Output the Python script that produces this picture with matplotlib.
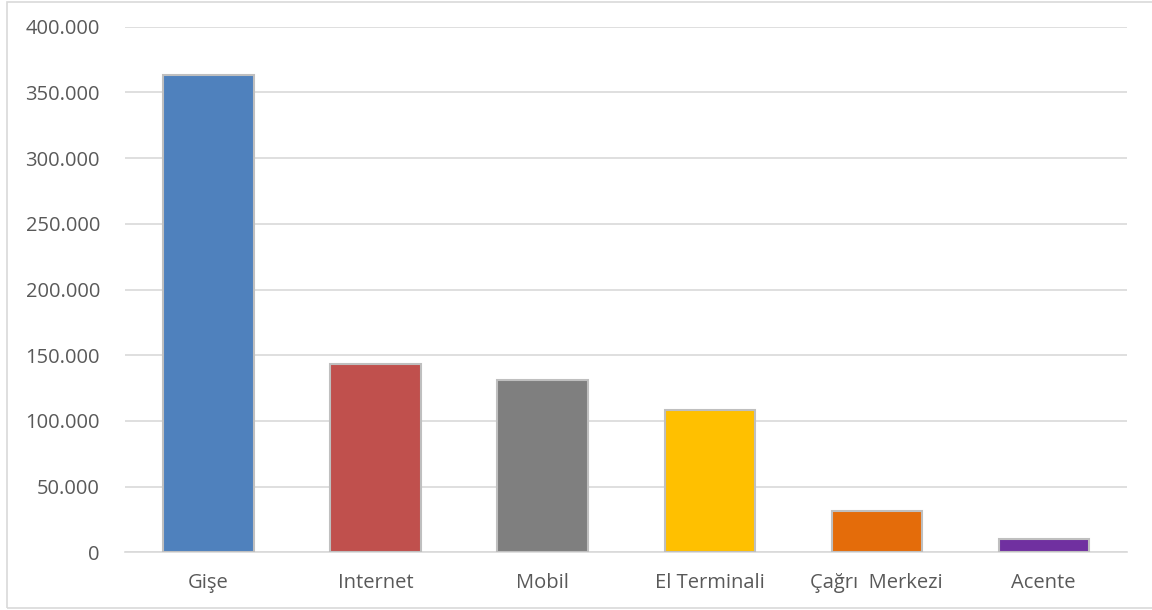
import matplotlib
matplotlib.use("Agg")
import matplotlib.pyplot as plt
from matplotlib.patches import Rectangle
from matplotlib.ticker import FuncFormatter

categories = ["Gişe", "Internet", "Mobil", "El Terminali", "Çağrı  Merkezi", "Acente"]
values = [363300, 143300, 131100, 108300, 31700, 9900]
colors = ["#4f81bd", "#c0504d", "#7f7f7f", "#ffc000", "#e46c0a", "#7030a0"]
yticks = [0, 50000, 100000, 150000, 200000, 250000, 300000, 350000, 400000]

plt.rcParams["font.family"] = ["Open Sans", "DejaVu Sans"]

fig = plt.figure(figsize=(11.52, 6.10), dpi=100)
ax = fig.add_axes([0.1085, 0.0946, 0.8700, 0.8616])

x = range(len(categories))
ax.bar(x, values, width=0.54, color=colors, edgecolor="#bfbfbf", linewidth=1.5, zorder=3)

ax.set_xlim(-0.5, len(categories) - 0.5)
ax.set_ylim(0, 400000)
ax.set_yticks(yticks)
ax.yaxis.set_major_formatter(FuncFormatter(lambda v, p: f"{int(v):,}".replace(",", ".")))
ax.set_xticks(list(x))
ax.set_xticklabels(categories)

ax.grid(axis="y", color="#d9d9d9", linewidth=1.2, zorder=0)
for s in ["top", "right", "left"]:
    ax.spines[s].set_visible(False)
ax.spines["bottom"].set_color("#d9d9d9")
ax.spines["bottom"].set_linewidth(1.2)
ax.tick_params(axis="both", length=0, labelsize=14.5, labelcolor="#595959")
ax.tick_params(axis="y", pad=18)
ax.tick_params(axis="x", pad=15)

# light frame around the whole chart area
fig.add_artist(Rectangle((7 / 1152, 2 / 610), 1150 / 1152, 606 / 610,
                         transform=fig.transFigure, fill=False,
                         edgecolor="#d9d9d9", linewidth=1.2))

fig.savefig("out.png", dpi=100, facecolor="white")
